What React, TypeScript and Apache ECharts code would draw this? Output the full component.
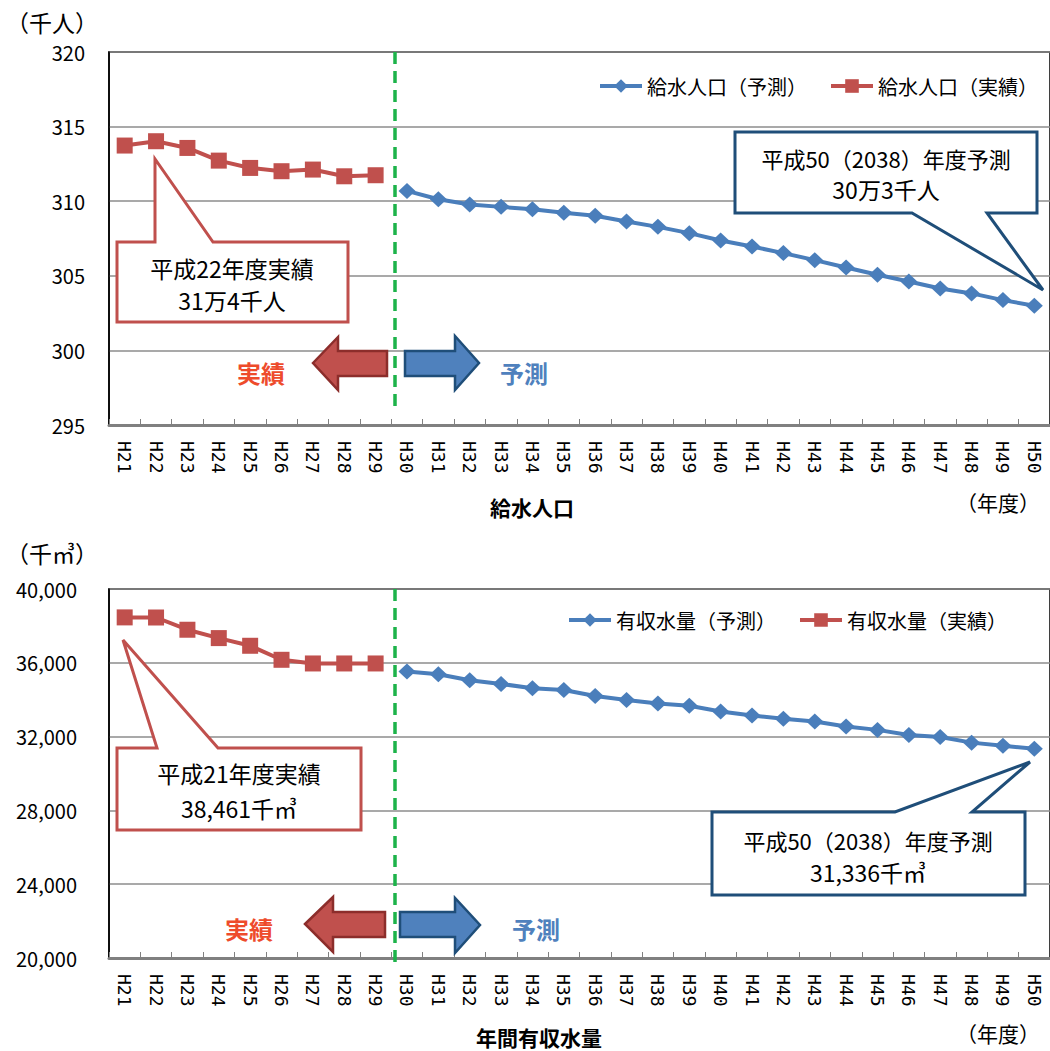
import React, { useEffect, useRef } from "react";
import * as echarts from "echarts";

const categories = [
  "H21", "H22", "H23", "H24", "H25", "H26", "H27", "H28", "H29", "H30",
  "H31", "H32", "H33", "H34", "H35", "H36", "H37", "H38", "H39", "H40",
  "H41", "H42", "H43", "H44", "H45", "H46", "H47", "H48", "H49", "H50",
];

// 給水人口（千人）
const popActual = [313.73, 314.02, 313.57, 312.72, 312.23, 312.01, 312.12, 311.67, 311.74];
const popForecast = [
  310.69, 310.13, 309.78, 309.62, 309.46, 309.22, 309.02, 308.64, 308.28, 307.86,
  307.37, 306.96, 306.52, 306.05, 305.56, 305.07, 304.62, 304.15, 303.82, 303.37, 302.99,
];

// 年間有収水量（千㎥）
const volActual = [38461, 38455, 37792, 37339, 36923, 36163, 35964, 35964, 35964];
const volForecast = [
  35527, 35382, 35055, 34855, 34618, 34527, 34200, 33982, 33800, 33673,
  33364, 33145, 32964, 32818, 32545, 32364, 32091, 31982, 31673, 31509, 31336,
];

const popTicks = { min: 295, max: 320, interval: 5 };
const volTicks = { min: 20000, max: 40000, interval: 4000 };

const FONT = "'Noto Sans CJK JP', 'Noto Sans', sans-serif";
const RED = "#C0504D";
const RED_DARK = "#8C2D2B";
const BLUE = "#4A7EBB";
const BLUE_DARK = "#1F4E79";
const GREEN = "#1DB34A";

function padActual(a: number[]) {
  return categories.map((_, i) => (i < a.length ? a[i] : null));
}
function padForecast(a: number[]) {
  const off = categories.length - a.length;
  return categories.map((_, i) => (i >= off ? a[i - off] : null));
}

function callout(points: number[][], stroke: string) {
  return {
    type: "polygon",
    shape: { points },
    style: { fill: "#fff", stroke, lineWidth: 3, lineJoin: "miter" },
    z: 10,
  };
}
function txt(x: number, y: number, text: string, size: number, extra: any = {}) {
  return {
    type: "text",
    x,
    y,
    style: {
      text,
      fontSize: size,
      fontFamily: FONT,
      fill: "#000",
      align: "center",
      verticalAlign: "middle",
      ...extra,
    },
    z: 11,
  };
}
function arrow(points: number[][], fill: string, stroke: string) {
  return {
    type: "polygon",
    shape: { points },
    style: { fill, stroke, lineWidth: 2.5 },
    z: 10,
  };
}
function dashed(x: number, y1: number, y2: number) {
  return {
    type: "line",
    shape: { x1: x, y1, x2: x, y2 },
    style: { stroke: GREEN, lineWidth: 3.5, lineDash: [12, 7] },
    z: 9,
  };
}

export default function App() {
  const ref = useRef<HTMLDivElement>(null);
  useEffect(() => {
    if (!ref.current) return;
    const chart = echarts.init(ref.current, null, { renderer: "svg" });

    const xAxisBase = (gridIndex: number) => ({
      type: "category",
      gridIndex,
      data: categories,
      boundaryGap: true,
      axisLine: { show: true, lineStyle: { color: "#808080", width: 3 } },
      axisTick: { show: true, inside: true, length: 6, lineStyle: { color: "#808080", width: 1 } },
      axisLabel: {
        interval: 0,
        rotate: -90,
        margin: 16,
        fontSize: 18,
        fontFamily: "'DejaVu Sans Mono', monospace",
        color: "#000",
      },
      splitLine: { show: false },
    });
    const yAxisBase = (gridIndex: number, t: any, margin: number) => ({
      type: "value",
      gridIndex,
      ...t,
      axisLine: { show: true, lineStyle: { color: "#000", width: 1.5 } },
      axisTick: { show: false },
      axisLabel: {
        fontSize: 20,
        fontFamily: FONT,
        color: "#000",
        margin,
        formatter: (v: number) => v.toLocaleString("en-US"),
      },
      splitLine: { show: true, lineStyle: { color: "#8c8c8c", width: 1.5 } },
    });

    const lineSeries = (name: string, data: any[], x: number, forecast: boolean) => ({
      name,
      type: "line",
      xAxisIndex: x,
      yAxisIndex: x,
      data,
      symbol: forecast ? "diamond" : "rect",
      symbolSize: forecast ? [17, 16] : 16,
      itemStyle: { color: forecast ? BLUE : RED },
      lineStyle: { color: forecast ? BLUE : RED, width: 4 },
      connectNulls: false,
      z: 5,
    });

    const legendBase = (left: number, top: number, data: string[]) => ({
      left,
      top,
      width: 470,
      orient: "horizontal",
      padding: 0,
      data,
      itemWidth: 42,
      itemHeight: 17,
      itemGap: 22,
      lineStyle: { width: 4 },
      textStyle: { fontSize: 20, fontFamily: FONT, color: "#000" },
    });

    chart.setOption({
      animation: false,
      backgroundColor: "#fff",
      grid: [
        { left: 109, top: 52, width: 951, height: 373, show: true, borderColor: "#000", borderWidth: 1.5, backgroundColor: "transparent" },
        { left: 109, top: 589, width: 951, height: 369, show: true, borderColor: "#000", borderWidth: 1.5, backgroundColor: "transparent" },
      ],
      xAxis: [xAxisBase(0), xAxisBase(1)],
      yAxis: [yAxisBase(0, popTicks, 24), yAxisBase(1, volTicks, 32)],
      legend: [
        legendBase(598, 76, ["給水人口（予測）", "給水人口（実績）"]),
        legendBase(567, 610, ["有収水量（予測）", "有収水量（実績）"]),
      ],
      series: [
        lineSeries("給水人口（予測）", padForecast(popForecast), 0, true),
        lineSeries("給水人口（実績）", padActual(popActual), 0, false),
        lineSeries("有収水量（予測）", padForecast(volForecast), 1, true),
        lineSeries("有収水量（実績）", padActual(volActual), 1, false),
      ],
      graphic: [
        // units and axis titles
        txt(6, 22, "（千人）", 23, { align: "left" }),
        txt(6, 553, "（千㎥）", 23, { align: "left" }),
        txt(532, 507, "給水人口", 21, { fontWeight: "bold" }),
        txt(998, 502, "（年度）", 21),
        txt(539, 1037, "年間有収水量", 21, { fontWeight: "bold" }),
        txt(998, 1033, "（年度）", 21),
        // green separators
        dashed(395, 52, 409),
        dashed(395, 589, 962),
        // arrows top
        arrow([[313, 363], [338, 337], [338, 351], [387, 351], [387, 376], [338, 376], [338, 390]], RED, RED_DARK),
        arrow([[405, 351], [455, 351], [455, 336], [479, 363], [455, 390], [455, 376], [405, 376]], "#4F81BD", BLUE_DARK),
        txt(261, 372, "実績", 24, { fontWeight: "bold", fill: "#EE4B2B" }),
        txt(524, 372, "予測", 24, { fontWeight: "bold", fill: "#4F81BD" }),
        // arrows bottom
        arrow([[305, 924], [333, 897], [333, 912], [385, 912], [385, 937], [333, 937], [333, 952]], RED, RED_DARK),
        arrow([[400, 912], [455, 912], [455, 898], [480, 925], [455, 953], [455, 937], [400, 937]], "#4F81BD", BLUE_DARK),
        txt(249, 928, "実績", 24, { fontWeight: "bold", fill: "#EE4B2B" }),
        txt(536, 928, "予測", 24, { fontWeight: "bold", fill: "#4F81BD" }),
        // callouts top
        callout([[117, 242], [155, 242], [155, 159], [213, 242], [348, 242], [348, 322], [117, 322]], RED),
        txt(232, 268, "平成22年度実績", 23),
        txt(232, 300, "31万4千人", 23),
        callout([[735, 132], [1037, 132], [1037, 213], [987, 213], [1043, 290], [912, 213], [735, 213]], BLUE_DARK),
        txt(886, 158, "平成50（2038）年度予測", 22),
        txt(886, 189, "30万3千人", 23),
        // callouts bottom
        callout([[117, 748], [157, 748], [123, 640], [218, 748], [361, 748], [361, 830], [117, 830]], RED),
        txt(239, 773, "平成21年度実績", 23),
        txt(239, 808, "38,461千㎥", 23),
        callout([[712, 812], [895, 812], [1030, 762], [972, 812], [1025, 812], [1025, 895], [712, 895]], BLUE_DARK),
        txt(868, 840, "平成50（2038）年度予測", 22),
        txt(868, 872, "31,336千㎥", 23),
      ],
    });
    return () => chart.dispose();
  }, []);
  return (
    <div
      ref={ref}
      style={{ position: "absolute", left: 0, top: 0, width: 1050, height: 1051, background: "#fff" }}
    />
  );
}
